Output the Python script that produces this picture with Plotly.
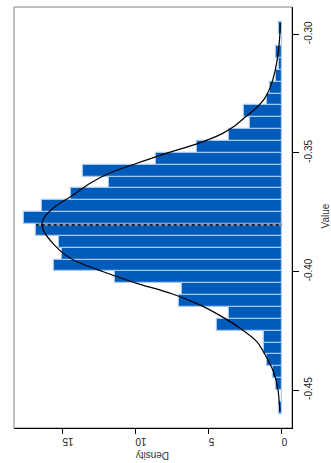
import plotly.graph_objects as go

# Histogram of the values (bin width 0.005), density scale
bin_starts = [-0.460, -0.455, -0.450, -0.445, -0.440, -0.435, -0.430, -0.425,
              -0.420, -0.415, -0.410, -0.405, -0.400, -0.395, -0.390, -0.385,
              -0.380, -0.375, -0.370, -0.365, -0.360, -0.355, -0.350, -0.345,
              -0.340, -0.335, -0.330, -0.325, -0.320, -0.315, -0.310, -0.305,
              -0.300]
bin_density = [0.2, 0.0, 0.4, 0.6, 1.0, 1.2, 1.2, 4.4,
               3.6, 7.0, 6.8, 11.4, 15.6, 15.0, 15.2, 16.8,
               17.6, 16.4, 14.4, 11.8, 13.6, 8.6, 5.8, 3.6,
               2.2, 2.6, 1.0, 0.8, 0.4, 0.2, 0.4, 0.0,
               0.2]
bin_width = 0.005

# Smooth density curve
curve_value = [-0.2951, -0.2995, -0.3072, -0.3156, -0.3226, -0.3269, -0.3311,
               -0.3347, -0.3390, -0.3420, -0.3460, -0.3502, -0.3544, -0.3586,
               -0.3628, -0.3685, -0.3727, -0.3769, -0.3800, -0.3832, -0.3888,
               -0.3930, -0.3959, -0.4001, -0.4050, -0.4092, -0.4141, -0.4183,
               -0.4239, -0.4296, -0.4366, -0.4422, -0.4492, -0.4590]
curve_density = [0.10, 0.12, 0.23, 0.46, 0.80, 1.15, 1.75,
                 2.45, 3.30, 4.10, 5.70, 7.90, 9.90, 11.80,
                 13.10, 14.45, 15.50, 16.20, 16.40, 16.25, 15.55,
                 14.80, 14.00, 12.20, 9.90, 7.60, 5.60, 4.30,
                 2.84, 1.70, 1.00, 0.57, 0.27, 0.12]

# Sample mean
mean_value = -0.3804

value_ticks = [-0.45, -0.40, -0.35, -0.30]
value_tick_text = ["-0.45", "-0.40", "-0.35", "-0.30"]
density_ticks = [0, 5, 10, 15]
density_tick_text = ["0", "5", "10", "15"]

bin_mids = [s + bin_width / 2 for s in bin_starts]

# height of the histogram at the mean
mean_height = 0.0
for s, d in zip(bin_starts, bin_density):
    if s <= mean_value < s + bin_width:
        mean_height = d

FONT = "Liberation Sans, Arial, sans-serif"

fig = go.Figure()

fig.add_trace(go.Bar(
    x=bin_density, y=bin_mids, orientation="h", width=bin_width,
    marker=dict(color="#005bbb", line=dict(color="#a8c8ee", width=1.2)),
    hoverinfo="skip", showlegend=False,
))

fig.add_trace(go.Scatter(
    x=[0, mean_height], y=[mean_value, mean_value], mode="lines",
    line=dict(color="#0b2550", width=2.2), hoverinfo="skip", showlegend=False,
))
fig.add_trace(go.Scatter(
    x=[0, mean_height], y=[mean_value, mean_value], mode="lines",
    line=dict(color="#ffffff", width=1, dash="dot"), hoverinfo="skip", showlegend=False,
))

fig.add_trace(go.Scatter(
    x=curve_density, y=curve_value, mode="lines",
    line=dict(color="#000000", width=1.2, shape="spline", smoothing=0.8),
    hoverinfo="skip", showlegend=False,
))

dmax = max(bin_density)
fig.update_layout(
    width=331, height=463,
    margin=dict(l=14, r=39, t=7, b=35),
    paper_bgcolor="white", plot_bgcolor="white",
    font=dict(family=FONT, size=10, color="#222222"),
    bargap=0,
    xaxis=dict(
        range=[dmax * 1.04, -dmax * 0.04],
        tickvals=density_ticks, ticktext=density_tick_text,
        tickangle=180, ticks="outside", ticklen=5, tickwidth=1, tickcolor="black",
        showline=True, linecolor="black", linewidth=1.3,
        showgrid=False, zeroline=False, fixedrange=True,
        tickfont=dict(family=FONT, size=10, color="#222222"),
        ticklabelstandoff=2,
    ),
    yaxis=dict(
        side="right",
        range=[-0.466, -0.2885],
        tickvals=value_ticks, ticktext=value_tick_text,
        tickangle=-90, ticks="outside", ticklen=6, tickwidth=1, tickcolor="black",
        showline=True, linecolor="black", linewidth=1.3,
        showgrid=False, zeroline=False, fixedrange=True,
        tickfont=dict(family=FONT, size=10, color="#222222"),
        ticklabelstandoff=1,
    ),
    shapes=[dict(type="rect", xref="paper", yref="paper", x0=0, x1=1, y0=0, y1=1,
                 line=dict(color="#808080", width=1), layer="below")],
    annotations=[
        dict(text="Density", xref="paper", yref="paper", x=(152.5 - 14) / 278,
             y=-(455.5 - 428) / 421, textangle=180, showarrow=False,
             xanchor="center", yanchor="middle",
             font=dict(family=FONT, size=10, color="#333333")),
        dict(text="Value", xref="paper", yref="paper", x=1 + (324.5 - 292) / 278,
             y=(428 - 216) / 421, textangle=-90, showarrow=False,
             xanchor="center", yanchor="middle",
             font=dict(family=FONT, size=10, color="#333333")),
    ],
)

fig.write_html("out.html")
